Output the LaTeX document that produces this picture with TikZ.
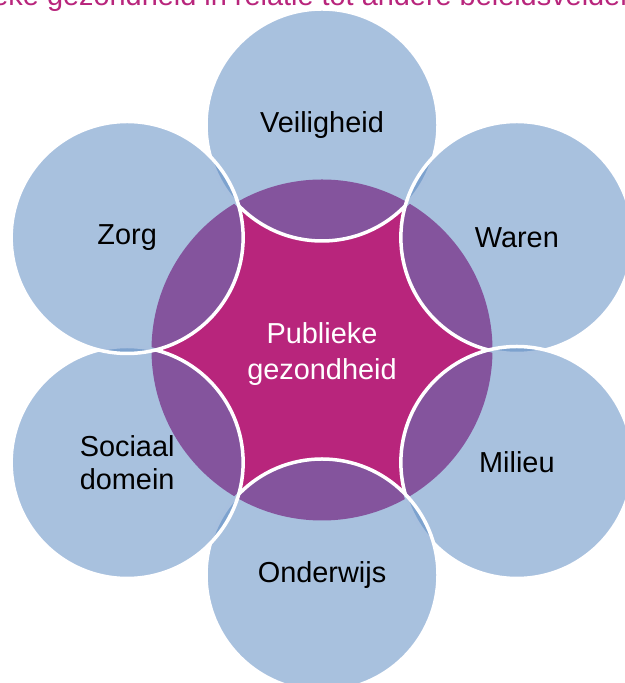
\documentclass[tikz,border=0pt]{standalone}
\usepackage{fontspec}
\setmainfont{Liberation Sans}
\usetikzlibrary{calc}
\definecolor{phmagenta}{RGB}{184,37,124}
\definecolor{phblue}{RGB}{82,131,190}

\begin{document}
\begin{tikzpicture}[
  x=1bp, y=1bp,
  hub/.style={circle, fill=phmagenta, minimum size=341bp, inner sep=0pt},
  hubtext/.style={align=center, text=white, inner sep=0pt,
                  font=\fontsize{29}{36}\selectfont},
  venn/.style={circle, fill=phblue, fill opacity=0.5, text opacity=1,
               draw=white, line width=3.5bp, minimum size=232bp, inner sep=0pt,
               align=center, font=\fontsize{29}{33}\selectfont},
  caption/.style={text=phmagenta, font=\fontsize{29}{33}\selectfont, inner sep=0pt}
]
\clip (0,0) rectangle (625,683);

\node[caption, anchor=base west] (title) at (-72,677)
  {Publieke gezondheid in relatie tot andere beleidsvelden};

\node[hub] (ph) at (322,333) {};
\node[hubtext] (phtext) at ($(ph.center)+(0,-4)$) {Publieke\\gezondheid};

% outer circles, clockwise from the top
\node[venn] (veil)    at ($(ph.center)+(90:225)$)  {Veiligheid};
\node[venn] (waren)   at ($(ph.center)+(30:225)$)  {Waren};
\node[venn] (milieu)  at ($(ph.center)+(-30:225)$) {Milieu};
\node[venn] (onderw)  at ($(ph.center)+(-90:225)$) {Onderwijs};
\node[venn] (sociaal) at ($(ph.center)+(210:225)$) {Sociaal\\domein};
\node[venn] (zorg)    at ($(ph.center)+(150:225)$) {Zorg};
\end{tikzpicture}
\end{document}
